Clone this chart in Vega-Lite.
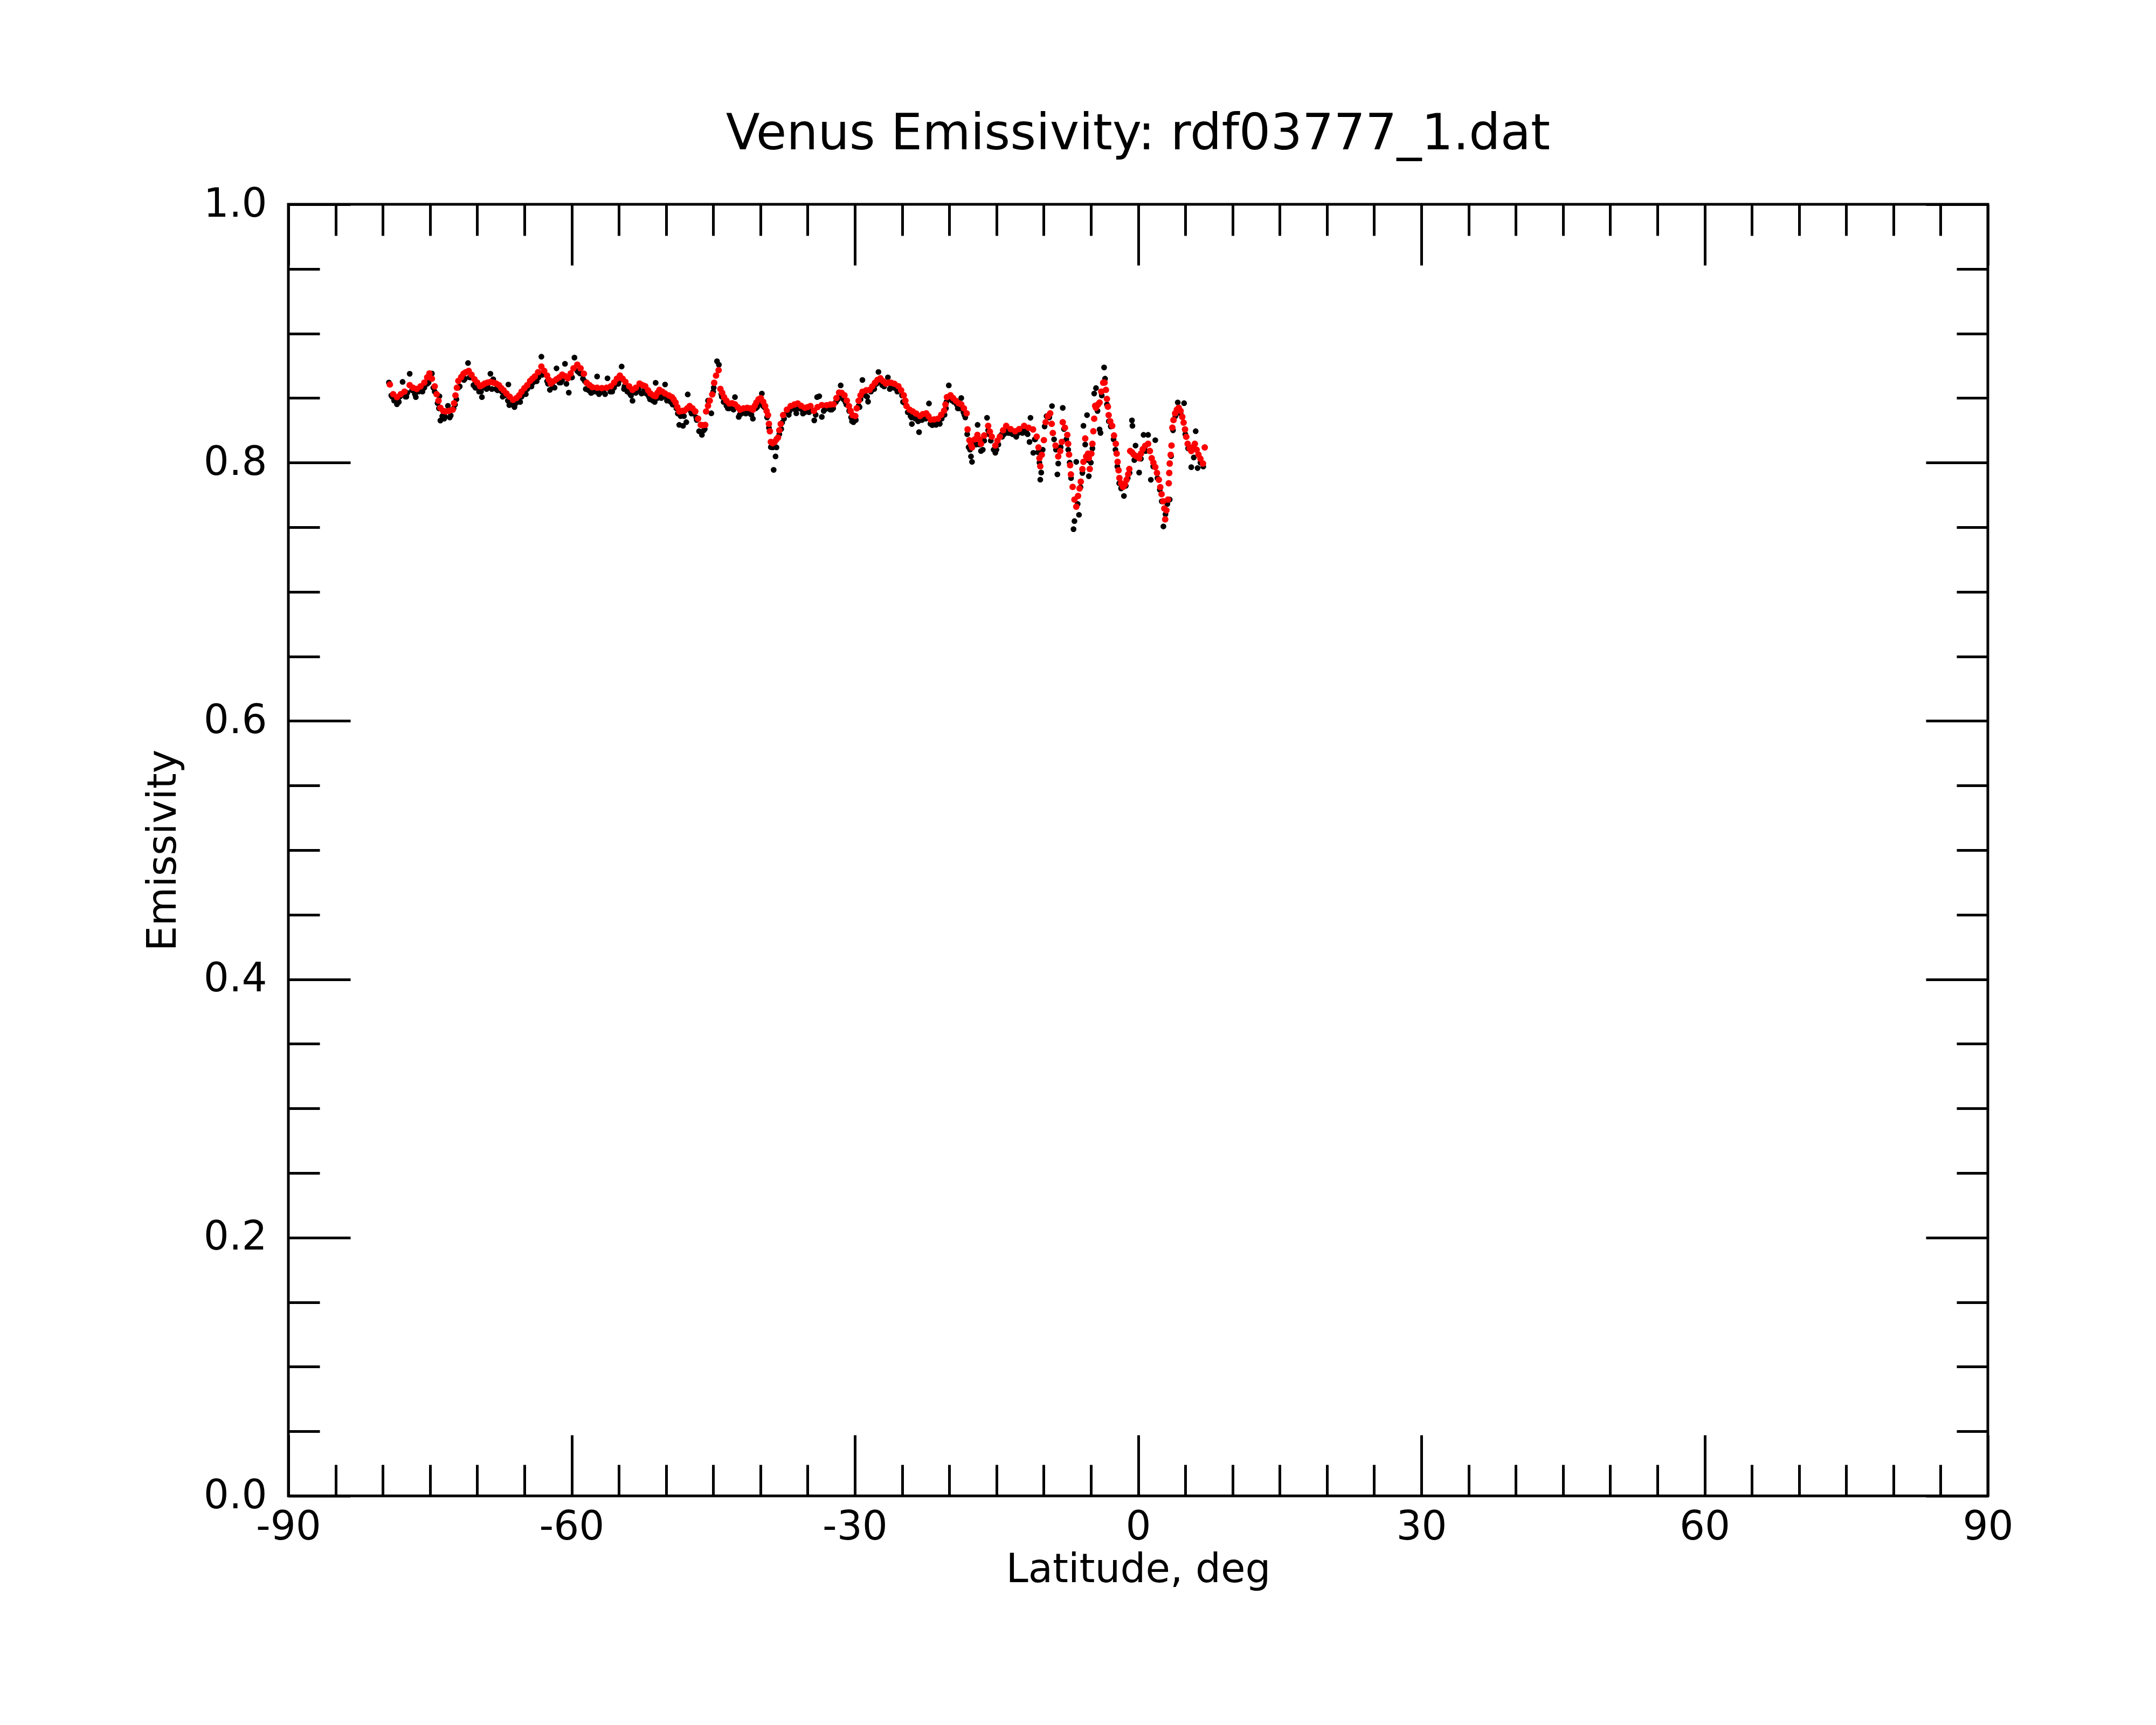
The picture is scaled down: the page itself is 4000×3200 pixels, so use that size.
{
"$schema": "https://vega.github.io/schema/vega-lite/v6.json",
"autosize": "none",
"width": 3153,
"height": 2396,
"padding": {"left": 535, "top": 379, "right": 312, "bottom": 425},
"background": "white",
"config": {
  "font": "DejaVu Sans",
  "view": {"stroke": "black", "strokeWidth": 5},
  "axis": {"grid": false, "domain": false, "tickColor": "black", "tickWidth": 5, "labelColor": "black", "titleColor": "black", "labelFont": "DejaVu Sans", "titleFont": "DejaVu Sans", "titleFontWeight": "normal", "labelFlush": false, "labelOverlap": false, "labelBound": false}
},
"title": {"text": "Venus Emissivity: rdf03777_1.dat", "font": "DejaVu Sans", "fontSize": 92, "fontWeight": "normal", "color": "black", "anchor": "middle", "frame": "group", "baseline": "alphabetic", "offset": -27},
"datasets": {
"raw": [
{"lat":-79.35,"emis":0.862},{"lat":-79.1,"emis":0.852},{"lat":-78.8,"emis":0.848},{"lat":-78.5,"emis":0.8452},{"lat":-78.2,"emis":0.851},{"lat":-77.9,"emis":0.8625},{"lat":-77.6,"emis":0.851},{"lat":-77.4,"emis":0.854},{"lat":-77.15,"emis":0.8688},{"lat":-76.9,"emis":0.856},{"lat":-76.5,"emis":0.8507},{"lat":-76.2,"emis":0.855},{"lat":-75.9,"emis":0.856},{"lat":-75.6,"emis":0.858},{"lat":-75.3,"emis":0.861},{"lat":-75.0,"emis":0.866},{"lat":-74.8,"emis":0.869},{"lat":-74.5,"emis":0.855},{"lat":-74.2,"emis":0.846},{"lat":-74.0,"emis":0.8514},{"lat":-73.9,"emis":0.8326},{"lat":-73.7,"emis":0.836},{"lat":-73.4,"emis":0.8355},{"lat":-73.1,"emis":0.844},{"lat":-72.8,"emis":0.8365},{"lat":-72.5,"emis":0.842},{"lat":-72.2,"emis":0.849},{"lat":-72.0,"emis":0.858},{"lat":-71.7,"emis":0.8665},{"lat":-71.4,"emis":0.864},{"lat":-70.97,"emis":0.8771},{"lat":-70.7,"emis":0.866},{"lat":-70.4,"emis":0.86},{"lat":-70.1,"emis":0.858},{"lat":-69.8,"emis":0.855},{"lat":-69.5,"emis":0.8507},{"lat":-69.2,"emis":0.858},{"lat":-68.9,"emis":0.859},{"lat":-68.6,"emis":0.8688},{"lat":-68.3,"emis":0.8645},{"lat":-68.0,"emis":0.857},{"lat":-67.7,"emis":0.857},{"lat":-67.4,"emis":0.855},{"lat":-67.1,"emis":0.852},{"lat":-66.7,"emis":0.8605},{"lat":-66.6,"emis":0.8445},{"lat":-66.3,"emis":0.845},{"lat":-65.9,"emis":0.846},{"lat":-65.6,"emis":0.848},{"lat":-65.3,"emis":0.851},{"lat":-65.0,"emis":0.854},{"lat":-64.7,"emis":0.857},{"lat":-64.4,"emis":0.859},{"lat":-64.1,"emis":0.862},{"lat":-63.8,"emis":0.863},{"lat":-63.5,"emis":0.866},{"lat":-63.2,"emis":0.882},{"lat":-63.0,"emis":0.87},{"lat":-62.6,"emis":0.863},{"lat":-62.3,"emis":0.8563},{"lat":-62.0,"emis":0.859},{"lat":-61.6,"emis":0.873},{"lat":-61.3,"emis":0.862},{"lat":-61.0,"emis":0.864},{"lat":-60.7,"emis":0.8765},{"lat":-60.3,"emis":0.8542},{"lat":-60.0,"emis":0.866},{"lat":-59.7,"emis":0.8813},{"lat":-59.4,"emis":0.871},{"lat":-59.1,"emis":0.869},{"lat":-58.8,"emis":0.865},{"lat":-58.5,"emis":0.857},{"lat":-58.2,"emis":0.856},{"lat":-57.9,"emis":0.854},{"lat":-57.5,"emis":0.855},{"lat":-57.3,"emis":0.8667},{"lat":-57.0,"emis":0.854},{"lat":-56.6,"emis":0.855},
{"lat":-79.0,"emis":0.851},{"lat":-78.3,"emis":0.847},{"lat":-77.5,"emis":0.851},{"lat":-76.6,"emis":0.853},{"lat":-75.8,"emis":0.855},{"lat":-75.15,"emis":0.862},{"lat":-74.65,"emis":0.858},{"lat":-74.05,"emis":0.842},{"lat":-73.5,"emis":0.834},{"lat":-72.9,"emis":0.835},{"lat":-72.35,"emis":0.845},{"lat":-71.85,"emis":0.859},{"lat":-71.3,"emis":0.865},{"lat":-70.8,"emis":0.866},{"lat":-70.2,"emis":0.858},{"lat":-69.6,"emis":0.855},{"lat":-69.0,"emis":0.857},{"lat":-68.45,"emis":0.857},{"lat":-67.85,"emis":0.856},{"lat":-67.3,"emis":0.851},{"lat":-66.75,"emis":0.848},{"lat":-66.05,"emis":0.843},{"lat":-65.45,"emis":0.847},{"lat":-64.85,"emis":0.853},{"lat":-64.25,"emis":0.859},{"lat":-63.7,"emis":0.863},{"lat":-63.1,"emis":0.868},{"lat":-62.5,"emis":0.861},{"lat":-61.8,"emis":0.858},{"lat":-61.15,"emis":0.862},{"lat":-60.55,"emis":0.861},{"lat":-59.95,"emis":0.866},{"lat":-59.25,"emis":0.87},{"lat":-58.6,"emis":0.863},{"lat":-57.95,"emis":0.854},{"lat":-57.1,"emis":0.853},{"lat":-56.45,"emis":0.853},{"lat":-55.7,"emis":0.855},{"lat":-55.05,"emis":0.861},{"lat":-54.45,"emis":0.857},{"lat":-53.7,"emis":0.852},{"lat":-53.0,"emis":0.856},{"lat":-52.35,"emis":0.854},{"lat":-51.8,"emis":0.851},{"lat":-51.2,"emis":0.847},{"lat":-50.5,"emis":0.85},{"lat":-49.9,"emis":0.848},{"lat":-49.3,"emis":0.845},{"lat":-48.75,"emis":0.838},{"lat":-48.1,"emis":0.836},{"lat":-47.3,"emis":0.838},{"lat":-46.75,"emis":0.833},{"lat":-46.0,"emis":0.825},{"lat":-45.0,"emis":0.855},{"lat":-44.15,"emis":0.853},{"lat":-43.45,"emis":0.842},{"lat":-42.85,"emis":0.841},{"lat":-42.2,"emis":0.837},{"lat":-41.55,"emis":0.838},{"lat":-40.95,"emis":0.837},{"lat":-40.35,"emis":0.843},{"lat":-39.75,"emis":0.844},{"lat":-37.7,"emis":0.831},{"lat":-37.0,"emis":0.837},{"lat":-36.3,"emis":0.841},{"lat":-35.5,"emis":0.838},{"lat":-34.85,"emis":0.839},{"lat":-34.15,"emis":0.837},{"lat":-33.3,"emis":0.84},{"lat":-32.45,"emis":0.841},{"lat":-31.8,"emis":0.849},{"lat":-31.0,"emis":0.847},{"lat":-30.3,"emis":0.832},{"lat":-29.5,"emis":0.843},{"lat":-28.7,"emis":0.851},{"lat":-27.95,"emis":0.857},{"lat":-27.1,"emis":0.86},{"lat":-26.3,"emis":0.857},{"lat":-25.5,"emis":0.855},{"lat":-24.9,"emis":0.847},{"lat":-24.0,"emis":0.835},{"lat":-23.3,"emis":0.832},{"lat":-22.5,"emis":0.834},{"lat":-21.8,"emis":0.829},{"lat":-21.0,"emis":0.83},{"lat":-20.35,"emis":0.842},{"lat":-19.7,"emis":0.848},{"lat":-19.1,"emis":0.842},{"lat":-18.4,"emis":0.837},{"lat":-17.8,"emis":0.81},{"lat":-17.15,"emis":0.814},{"lat":-16.45,"emis":0.81},{"lat":-15.8,"emis":0.822},{"lat":-15.0,"emis":0.81},{"lat":-14.4,"emis":0.82},{"lat":-13.75,"emis":0.823},{"lat":-12.9,"emis":0.82},{"lat":-12.25,"emis":0.823},{"lat":-11.7,"emis":0.822},{"lat":-10.95,"emis":0.818},
{"lat":-56.2,"emis":0.8653},{"lat":-55.9,"emis":0.855},{"lat":-55.5,"emis":0.858},{"lat":-55.2,"emis":0.861},{"lat":-54.9,"emis":0.864},{"lat":-54.7,"emis":0.8744},{"lat":-54.4,"emis":0.859},{"lat":-54.1,"emis":0.855},{"lat":-53.8,"emis":0.853},{"lat":-53.55,"emis":0.8479},{"lat":-53.2,"emis":0.854},{"lat":-52.9,"emis":0.857},{"lat":-52.6,"emis":0.8535},{"lat":-52.3,"emis":0.856},{"lat":-52.0,"emis":0.853},{"lat":-51.7,"emis":0.849},{"lat":-51.4,"emis":0.848},{"lat":-51.1,"emis":0.8618},{"lat":-50.9,"emis":0.85},{"lat":-50.6,"emis":0.852},{"lat":-50.3,"emis":0.851},{"lat":-50.1,"emis":0.8605},{"lat":-49.8,"emis":0.849},{"lat":-49.5,"emis":0.847},{"lat":-49.2,"emis":0.845},{"lat":-48.9,"emis":0.842},{"lat":-48.6,"emis":0.8292},{"lat":-48.45,"emis":0.836},{"lat":-48.2,"emis":0.8285},{"lat":-47.85,"emis":0.8313},{"lat":-47.7,"emis":0.8528},{"lat":-47.4,"emis":0.84},{"lat":-47.1,"emis":0.838},{"lat":-46.8,"emis":0.835},{"lat":-46.5,"emis":0.8243},{"lat":-46.2,"emis":0.8215},{"lat":-45.9,"emis":0.826},{"lat":-45.55,"emis":0.848},{"lat":-45.2,"emis":0.8382},{"lat":-44.95,"emis":0.858},{"lat":-44.6,"emis":0.8785},{"lat":-44.4,"emis":0.8758},{"lat":-44.1,"emis":0.851},{"lat":-43.9,"emis":0.847},{"lat":-43.6,"emis":0.844},{"lat":-43.3,"emis":0.842},{"lat":-43.0,"emis":0.843},{"lat":-42.7,"emis":0.8507},{"lat":-42.3,"emis":0.8354},{"lat":-42.0,"emis":0.838},{"lat":-41.7,"emis":0.839},{"lat":-41.4,"emis":0.8395},{"lat":-41.1,"emis":0.838},{"lat":-40.8,"emis":0.834},{"lat":-40.5,"emis":0.842},{"lat":-40.2,"emis":0.846},{"lat":-39.85,"emis":0.8535},{"lat":-39.6,"emis":0.843},{"lat":-39.3,"emis":0.835},{"lat":-39.1,"emis":0.827},{"lat":-38.9,"emis":0.812},{"lat":-38.7,"emis":0.8118},{"lat":-38.6,"emis":0.7944},{"lat":-38.4,"emis":0.8048},{"lat":-38.3,"emis":0.8118},{"lat":-38.0,"emis":0.822},{"lat":-37.8,"emis":0.826},{"lat":-37.5,"emis":0.834},{"lat":-37.2,"emis":0.839},{"lat":-36.9,"emis":0.84},{"lat":-36.6,"emis":0.842},{"lat":-36.2,"emis":0.8382},{"lat":-35.9,"emis":0.842},{"lat":-35.6,"emis":0.841},{"lat":-35.3,"emis":0.839},{"lat":-35.0,"emis":0.84},{"lat":-34.6,"emis":0.841},{"lat":-34.3,"emis":0.8327},{"lat":-34.0,"emis":0.8507},{"lat":-33.77,"emis":0.8514},
{"lat":-33.5,"emis":0.8354},{"lat":-33.2,"emis":0.841},{"lat":-32.9,"emis":0.842},{"lat":-32.6,"emis":0.841},{"lat":-32.3,"emis":0.842},{"lat":-32.0,"emis":0.847},{"lat":-31.7,"emis":0.851},{"lat":-31.5,"emis":0.8598},{"lat":-31.2,"emis":0.849},{"lat":-30.9,"emis":0.845},{"lat":-30.6,"emis":0.84},{"lat":-30.4,"emis":0.835},{"lat":-30.15,"emis":0.8313},{"lat":-29.9,"emis":0.833},{"lat":-29.6,"emis":0.844},{"lat":-29.4,"emis":0.849},{"lat":-29.2,"emis":0.864},{"lat":-28.9,"emis":0.852},{"lat":-28.6,"emis":0.8472},{"lat":-28.3,"emis":0.855},{"lat":-28.0,"emis":0.858},{"lat":-27.7,"emis":0.861},{"lat":-27.5,"emis":0.8702},{"lat":-27.2,"emis":0.862},{"lat":-26.9,"emis":0.859},{"lat":-26.5,"emis":0.866},{"lat":-26.2,"emis":0.858},{"lat":-25.9,"emis":0.858},{"lat":-25.6,"emis":0.857},{"lat":-25.3,"emis":0.856},{"lat":-25.0,"emis":0.852},{"lat":-24.7,"emis":0.846},{"lat":-24.4,"emis":0.839},{"lat":-24.1,"emis":0.836},{"lat":-23.96,"emis":0.8299},{"lat":-23.6,"emis":0.834},{"lat":-23.2,"emis":0.8236},{"lat":-22.9,"emis":0.833},{"lat":-22.6,"emis":0.835},{"lat":-22.15,"emis":0.8458},{"lat":-22.0,"emis":0.83},{"lat":-21.7,"emis":0.83},{"lat":-21.4,"emis":0.8292},{"lat":-21.1,"emis":0.831},{"lat":-20.8,"emis":0.834},{"lat":-20.5,"emis":0.837},{"lat":-20.3,"emis":0.847},{"lat":-20.05,"emis":0.8598},{"lat":-19.8,"emis":0.849},{"lat":-19.5,"emis":0.847},{"lat":-19.2,"emis":0.845},{"lat":-18.9,"emis":0.842},{"lat":-18.73,"emis":0.85},{"lat":-18.5,"emis":0.839},{"lat":-18.3,"emis":0.835},{"lat":-18.1,"emis":0.822},{"lat":-17.95,"emis":0.812},{"lat":-17.7,"emis":0.8048},{"lat":-17.59,"emis":0.8006},{"lat":-17.35,"emis":0.815},{"lat":-17.0,"emis":0.8292},{"lat":-16.8,"emis":0.814},{"lat":-16.64,"emis":0.809},{"lat":-16.3,"emis":0.817},{"lat":-16.0,"emis":0.8347},{"lat":-15.88,"emis":0.825},{"lat":-15.6,"emis":0.817},{"lat":-15.3,"emis":0.81},{"lat":-15.12,"emis":0.8076},{"lat":-14.8,"emis":0.814},{"lat":-14.5,"emis":0.8215},{"lat":-14.2,"emis":0.822},{"lat":-13.9,"emis":0.825},{"lat":-13.6,"emis":0.823},{"lat":-13.3,"emis":0.822},{"lat":-13.0,"emis":0.821},{"lat":-12.7,"emis":0.823},{"lat":-12.4,"emis":0.826},{"lat":-12.1,"emis":0.825},{"lat":-11.8,"emis":0.823},{"lat":-11.5,"emis":0.816},{"lat":-11.4,"emis":0.8347},{"lat":-11.1,"emis":0.8076},
{"lat":-10.9,"emis":0.818},{"lat":-10.6,"emis":0.808},{"lat":-10.45,"emis":0.8},{"lat":-10.36,"emis":0.7868},{"lat":-10.26,"emis":0.7923},{"lat":-10.1,"emis":0.81},{"lat":-9.9,"emis":0.828},{"lat":-9.7,"emis":0.836},{"lat":-9.4,"emis":0.835},{"lat":-9.12,"emis":0.8438},{"lat":-8.9,"emis":0.818},{"lat":-8.7,"emis":0.81},{"lat":-8.55,"emis":0.7909},{"lat":-8.46,"emis":0.7993},{"lat":-8.2,"emis":0.812},{"lat":-7.98,"emis":0.8424},{"lat":-7.85,"emis":0.826},{"lat":-7.6,"emis":0.818},{"lat":-7.4,"emis":0.81},{"lat":-7.25,"emis":0.8},{"lat":-7.1,"emis":0.788},{"lat":-6.84,"emis":0.7485},{"lat":-6.74,"emis":0.7547},{"lat":-6.55,"emis":0.8006},{"lat":-6.4,"emis":0.768},{"lat":-6.26,"emis":0.7596},{"lat":-6.1,"emis":0.781},{"lat":-5.9,"emis":0.792},{"lat":-5.79,"emis":0.8285},{"lat":-5.6,"emis":0.814},{"lat":-5.41,"emis":0.8368},{"lat":-5.3,"emis":0.802},{"lat":-5.22,"emis":0.7895},{"lat":-5.0,"emis":0.8},{"lat":-4.84,"emis":0.811},{"lat":-4.65,"emis":0.8535},{"lat":-4.46,"emis":0.8577},{"lat":-4.3,"emis":0.84},{"lat":-4.08,"emis":0.8257},{"lat":-3.98,"emis":0.823},{"lat":-3.85,"emis":0.852},{"lat":-3.6,"emis":0.8737},{"lat":-3.5,"emis":0.865},{"lat":-3.3,"emis":0.845},{"lat":-3.1,"emis":0.832},{"lat":-2.9,"emis":0.828},{"lat":-2.6,"emis":0.818},{"lat":-2.4,"emis":0.81},{"lat":-2.2,"emis":0.797},{"lat":-2.0,"emis":0.784},{"lat":-1.8,"emis":0.78},{"lat":-1.5,"emis":0.7742},{"lat":-1.3,"emis":0.782},{"lat":-1.1,"emis":0.788},{"lat":-0.9,"emis":0.792},{"lat":-0.65,"emis":0.8327},{"lat":-0.6,"emis":0.8285},{"lat":-0.4,"emis":0.802},{"lat":-0.27,"emis":0.8132},{"lat":0.11,"emis":0.7923},{"lat":0.3,"emis":0.803},{"lat":0.58,"emis":0.8215},{"lat":0.8,"emis":0.809},{"lat":1.06,"emis":0.8215},{"lat":1.35,"emis":0.7867},{"lat":1.6,"emis":0.797},{"lat":1.82,"emis":0.8174},{"lat":2.05,"emis":0.788},{"lat":2.3,"emis":0.779},{"lat":2.5,"emis":0.77},{"lat":2.68,"emis":0.7506},{"lat":2.9,"emis":0.76},{"lat":3.1,"emis":0.768},{"lat":3.35,"emis":0.7714},{"lat":3.5,"emis":0.805},{"lat":3.7,"emis":0.825},{"lat":3.95,"emis":0.836},{"lat":4.2,"emis":0.8466},{"lat":4.5,"emis":0.838},{"lat":4.87,"emis":0.846},{"lat":5.0,"emis":0.822},{"lat":5.3,"emis":0.811},{"lat":5.63,"emis":0.7965},{"lat":5.9,"emis":0.804},{"lat":6.1,"emis":0.8243},{"lat":6.3,"emis":0.7958},{"lat":6.6,"emis":0.8},{"lat":6.9,"emis":0.797}
],
"smoothed": [
{"lat":-79.25,"emis":0.8605},{"lat":-78.9,"emis":0.853},{"lat":-78.5,"emis":0.8507},{"lat":-78.1,"emis":0.853},{"lat":-77.7,"emis":0.855},{"lat":-77.15,"emis":0.86},{"lat":-76.8,"emis":0.858},{"lat":-76.4,"emis":0.857},{"lat":-76.0,"emis":0.859},{"lat":-75.6,"emis":0.862},{"lat":-75.3,"emis":0.866},{"lat":-75.06,"emis":0.869},{"lat":-74.8,"emis":0.865},{"lat":-74.5,"emis":0.859},{"lat":-74.3,"emis":0.853},{"lat":-74.1,"emis":0.848},{"lat":-73.9,"emis":0.8424},{"lat":-73.6,"emis":0.84},{"lat":-73.35,"emis":0.8396},{"lat":-73.0,"emis":0.84},{"lat":-72.6,"emis":0.841},{"lat":-72.45,"emis":0.846},{"lat":-72.3,"emis":0.852},{"lat":-72.15,"emis":0.858},{"lat":-72.0,"emis":0.8632},{"lat":-71.7,"emis":0.866},{"lat":-71.45,"emis":0.8688},{"lat":-71.2,"emis":0.87},{"lat":-70.9,"emis":0.871},{"lat":-70.6,"emis":0.868},{"lat":-70.3,"emis":0.8646},{"lat":-70.0,"emis":0.862},{"lat":-69.7,"emis":0.8591},{"lat":-69.45,"emis":0.86},{"lat":-69.2,"emis":0.8612},{"lat":-68.9,"emis":0.862},{"lat":-68.6,"emis":0.8625},{"lat":-68.3,"emis":0.862},{"lat":-68.0,"emis":0.8612},{"lat":-67.7,"emis":0.86},{"lat":-67.45,"emis":0.8577},{"lat":-67.2,"emis":0.856},{"lat":-66.9,"emis":0.8535},{"lat":-66.55,"emis":0.851},{"lat":-66.2,"emis":0.8486},{"lat":-65.85,"emis":0.85},{"lat":-65.55,"emis":0.8521},{"lat":-65.3,"emis":0.855},{"lat":-65.0,"emis":0.8577},{"lat":-64.7,"emis":0.86},{"lat":-64.4,"emis":0.8632},{"lat":-64.15,"emis":0.865},{"lat":-63.9,"emis":0.8667},{"lat":-63.55,"emis":0.87},{"lat":-63.2,"emis":0.8744},{"lat":-62.9,"emis":0.871},{"lat":-62.6,"emis":0.8674},{"lat":-62.4,"emis":0.864},{"lat":-62.2,"emis":0.8612},{"lat":-61.9,"emis":0.863},{"lat":-61.6,"emis":0.8646},{"lat":-61.3,"emis":0.866},{"lat":-61.0,"emis":0.8681},{"lat":-60.7,"emis":0.867},{"lat":-60.4,"emis":0.8653},{"lat":-60.1,"emis":0.869},{"lat":-59.8,"emis":0.873},{"lat":-59.4,"emis":0.8758},{"lat":-59.05,"emis":0.873},{"lat":-58.7,"emis":0.8688},{"lat":-58.4,"emis":0.8618},{"lat":-58.1,"emis":0.86},{"lat":-57.8,"emis":0.8584},{"lat":-57.3,"emis":0.858},{"lat":-56.8,"emis":0.8577},
{"lat":-56.3,"emis":0.858},{"lat":-55.84,"emis":0.8591},{"lat":-55.5,"emis":0.862},{"lat":-55.2,"emis":0.865},{"lat":-54.89,"emis":0.8674},{"lat":-54.6,"emis":0.865},{"lat":-54.3,"emis":0.8625},{"lat":-53.9,"emis":0.859},{"lat":-53.55,"emis":0.8563},{"lat":-53.2,"emis":0.858},{"lat":-52.8,"emis":0.8612},{"lat":-52.5,"emis":0.86},{"lat":-52.2,"emis":0.8591},{"lat":-51.9,"emis":0.856},{"lat":-51.65,"emis":0.8535},{"lat":-51.35,"emis":0.852},{"lat":-51.1,"emis":0.8514},{"lat":-50.9,"emis":0.854},{"lat":-50.7,"emis":0.8563},{"lat":-50.4,"emis":0.855},{"lat":-50.1,"emis":0.8535},{"lat":-49.7,"emis":0.852},{"lat":-49.37,"emis":0.8507},{"lat":-49.2,"emis":0.849},{"lat":-48.99,"emis":0.8465},{"lat":-48.8,"emis":0.843},{"lat":-48.6,"emis":0.8396},{"lat":-48.3,"emis":0.84},{"lat":-48.04,"emis":0.8403},{"lat":-47.75,"emis":0.842},{"lat":-47.5,"emis":0.8438},{"lat":-47.2,"emis":0.842},{"lat":-46.9,"emis":0.8396},{"lat":-46.6,"emis":0.834},{"lat":-46.32,"emis":0.8292},{"lat":-46.1,"emis":0.829},{"lat":-45.85,"emis":0.8292},{"lat":-45.75,"emis":0.8396},{"lat":-45.55,"emis":0.844},{"lat":-45.37,"emis":0.848},{"lat":-45.1,"emis":0.8528},{"lat":-44.9,"emis":0.8618},{"lat":-44.7,"emis":0.8674},{"lat":-44.43,"emis":0.8716},{"lat":-44.24,"emis":0.857},{"lat":-44.05,"emis":0.854},{"lat":-43.85,"emis":0.8507},{"lat":-43.6,"emis":0.848},{"lat":-43.3,"emis":0.8458},{"lat":-43.0,"emis":0.846},{"lat":-42.7,"emis":0.8452},{"lat":-42.4,"emis":0.843},{"lat":-42.16,"emis":0.841},{"lat":-41.8,"emis":0.842},{"lat":-41.4,"emis":0.8424},{"lat":-41.1,"emis":0.842},{"lat":-40.8,"emis":0.841},{"lat":-40.6,"emis":0.844},{"lat":-40.43,"emis":0.8465},{"lat":-40.2,"emis":0.849},{"lat":-39.96,"emis":0.85},{"lat":-39.7,"emis":0.847},{"lat":-39.5,"emis":0.8438},{"lat":-39.35,"emis":0.84},{"lat":-39.2,"emis":0.8368},{"lat":-39.1,"emis":0.83},{"lat":-39.0,"emis":0.8243},{"lat":-38.9,"emis":0.816},{"lat":-38.7,"emis":0.815},{"lat":-38.5,"emis":0.816},{"lat":-38.3,"emis":0.818},{"lat":-38.14,"emis":0.8194},{"lat":-38.0,"emis":0.825},{"lat":-37.85,"emis":0.8299},{"lat":-37.6,"emis":0.8368},{"lat":-37.2,"emis":0.841},{"lat":-36.8,"emis":0.8438},{"lat":-36.4,"emis":0.845},{"lat":-36.05,"emis":0.8458},{"lat":-35.7,"emis":0.844},{"lat":-35.3,"emis":0.8424},{"lat":-35.0,"emis":0.843},{"lat":-34.7,"emis":0.8438},{"lat":-34.34,"emis":0.84},{"lat":-33.96,"emis":0.843},
{"lat":-33.5,"emis":0.8445},{"lat":-33.0,"emis":0.8444},{"lat":-32.6,"emis":0.845},{"lat":-32.25,"emis":0.8452},{"lat":-31.95,"emis":0.85},{"lat":-31.67,"emis":0.8542},{"lat":-31.4,"emis":0.854},{"lat":-31.1,"emis":0.8521},{"lat":-30.85,"emis":0.848},{"lat":-30.63,"emis":0.8438},{"lat":-30.45,"emis":0.84},{"lat":-30.25,"emis":0.8368},{"lat":-29.95,"emis":0.8361},{"lat":-29.8,"emis":0.842},{"lat":-29.6,"emis":0.8479},{"lat":-29.4,"emis":0.852},{"lat":-29.2,"emis":0.8549},{"lat":-28.8,"emis":0.856},{"lat":-28.44,"emis":0.8563},{"lat":-28.15,"emis":0.859},{"lat":-27.87,"emis":0.8618},{"lat":-27.6,"emis":0.864},{"lat":-27.3,"emis":0.8653},{"lat":-27.0,"emis":0.863},{"lat":-26.72,"emis":0.8612},{"lat":-26.45,"emis":0.862},{"lat":-26.15,"emis":0.8618},{"lat":-25.8,"emis":0.861},{"lat":-25.39,"emis":0.8591},{"lat":-25.1,"emis":0.856},{"lat":-24.82,"emis":0.8521},{"lat":-24.65,"emis":0.848},{"lat":-24.53,"emis":0.8438},{"lat":-24.2,"emis":0.841},{"lat":-23.87,"emis":0.8396},{"lat":-23.5,"emis":0.838},{"lat":-23.1,"emis":0.8361},{"lat":-22.8,"emis":0.8375},{"lat":-22.44,"emis":0.8382},{"lat":-22.2,"emis":0.836},{"lat":-21.96,"emis":0.8333},{"lat":-21.6,"emis":0.8335},{"lat":-21.2,"emis":0.834},{"lat":-20.85,"emis":0.837},{"lat":-20.54,"emis":0.8403},{"lat":-20.4,"emis":0.845},{"lat":-20.25,"emis":0.8507},{"lat":-19.87,"emis":0.8521},{"lat":-19.6,"emis":0.85},{"lat":-19.3,"emis":0.8479},{"lat":-19.0,"emis":0.846},{"lat":-18.73,"emis":0.8452},{"lat":-18.45,"emis":0.842},{"lat":-18.16,"emis":0.8382},{"lat":-18.06,"emis":0.8257},{"lat":-17.87,"emis":0.8173},{"lat":-17.7,"emis":0.814},{"lat":-17.59,"emis":0.8118},{"lat":-17.3,"emis":0.818},{"lat":-17.02,"emis":0.8215},{"lat":-16.8,"emis":0.818},{"lat":-16.64,"emis":0.8146},{"lat":-16.3,"emis":0.821},{"lat":-15.88,"emis":0.8285},{"lat":-15.7,"emis":0.824},{"lat":-15.5,"emis":0.8201},{"lat":-15.12,"emis":0.8132},{"lat":-14.9,"emis":0.817},{"lat":-14.64,"emis":0.8201},{"lat":-14.3,"emis":0.825},{"lat":-13.97,"emis":0.8285},{"lat":-13.5,"emis":0.826},{"lat":-13.02,"emis":0.8243},{"lat":-12.6,"emis":0.826},{"lat":-12.07,"emis":0.8285},{"lat":-11.6,"emis":0.827},{"lat":-11.13,"emis":0.8257},
{"lat":-10.74,"emis":0.8201},{"lat":-10.55,"emis":0.8118},{"lat":-10.45,"emis":0.8034},{"lat":-10.36,"emis":0.7972},{"lat":-10.2,"emis":0.806},{"lat":-9.98,"emis":0.8174},{"lat":-9.79,"emis":0.8313},{"lat":-9.55,"emis":0.836},{"lat":-9.31,"emis":0.8382},{"lat":-9.15,"emis":0.83},{"lat":-9.03,"emis":0.8229},{"lat":-8.74,"emis":0.8132},{"lat":-8.46,"emis":0.8048},{"lat":-8.25,"emis":0.809},{"lat":-8.08,"emis":0.816},{"lat":-7.98,"emis":0.8313},{"lat":-7.75,"emis":0.827},{"lat":-7.5,"emis":0.8215},{"lat":-7.41,"emis":0.8146},{"lat":-7.31,"emis":0.8062},{"lat":-7.2,"emis":0.798},{"lat":-7.12,"emis":0.7909},{"lat":-6.93,"emis":0.7812},{"lat":-6.74,"emis":0.7714},{"lat":-6.55,"emis":0.7659},{"lat":-6.36,"emis":0.7742},{"lat":-6.2,"emis":0.78},{"lat":-6.07,"emis":0.7853},{"lat":-5.9,"emis":0.795},{"lat":-5.79,"emis":0.8006},{"lat":-5.6,"emis":0.8187},{"lat":-5.5,"emis":0.8048},{"lat":-5.3,"emis":0.807},{"lat":-5.22,"emis":0.8034},{"lat":-5.12,"emis":0.7951},{"lat":-4.95,"emis":0.807},{"lat":-4.84,"emis":0.8146},{"lat":-4.74,"emis":0.8243},{"lat":-4.65,"emis":0.834},{"lat":-4.55,"emis":0.844},{"lat":-4.46,"emis":0.8424},{"lat":-4.25,"emis":0.845},{"lat":-4.08,"emis":0.8465},{"lat":-3.9,"emis":0.855},{"lat":-3.7,"emis":0.8619},{"lat":-3.55,"emis":0.862},{"lat":-3.41,"emis":0.8563},{"lat":-3.3,"emis":0.8493},{"lat":-3.2,"emis":0.8433},{"lat":-3.12,"emis":0.8368},{"lat":-2.95,"emis":0.832},{"lat":-2.74,"emis":0.8285},{"lat":-2.55,"emis":0.821},{"lat":-2.36,"emis":0.8146},{"lat":-2.27,"emis":0.807},{"lat":-2.17,"emis":0.8006},{"lat":-2.07,"emis":0.794},{"lat":-1.98,"emis":0.7881},{"lat":-1.8,"emis":0.784},{"lat":-1.6,"emis":0.7812},{"lat":-1.4,"emis":0.783},{"lat":-1.22,"emis":0.7867},{"lat":-1.05,"emis":0.791},{"lat":-0.93,"emis":0.7951},{"lat":-0.84,"emis":0.809},{"lat":-0.65,"emis":0.808},{"lat":-0.46,"emis":0.8062},{"lat":-0.2,"emis":0.805},{"lat":0.11,"emis":0.8034},{"lat":0.3,"emis":0.807},{"lat":0.49,"emis":0.8104},{"lat":0.75,"emis":0.813},{"lat":1.06,"emis":0.8146},{"lat":1.25,"emis":0.809},{"lat":1.44,"emis":0.8034},{"lat":1.62,"emis":0.8},{"lat":1.82,"emis":0.7965},{"lat":2.0,"emis":0.792},{"lat":2.2,"emis":0.7867},{"lat":2.35,"emis":0.781},{"lat":2.49,"emis":0.7756},{"lat":2.65,"emis":0.77},{"lat":2.78,"emis":0.7645},{"lat":2.87,"emis":0.7561},{"lat":3.0,"emis":0.763},{"lat":3.16,"emis":0.7714},{"lat":3.25,"emis":0.784},{"lat":3.3,"emis":0.792},{"lat":3.35,"emis":0.7993},{"lat":3.45,"emis":0.806},{"lat":3.54,"emis":0.8132},{"lat":3.63,"emis":0.8271},{"lat":3.75,"emis":0.833},{"lat":3.92,"emis":0.8382},{"lat":4.1,"emis":0.841},{"lat":4.3,"emis":0.8424},{"lat":4.5,"emis":0.84},{"lat":4.68,"emis":0.8354},{"lat":4.82,"emis":0.831},{"lat":4.97,"emis":0.8257},{"lat":5.1,"emis":0.82},{"lat":5.25,"emis":0.8146},{"lat":5.45,"emis":0.811},{"lat":5.63,"emis":0.809},{"lat":5.8,"emis":0.812},{"lat":6.01,"emis":0.8146},{"lat":6.2,"emis":0.81},{"lat":6.39,"emis":0.8062},{"lat":6.6,"emis":0.803},{"lat":6.87,"emis":0.7993},{"lat":7.06,"emis":0.8118}
]
},
"resolve": {"axis": {"x": "independent", "y": "independent"}},
"layer": [
{
 "data": {"name": "raw"},
 "mark": {"type": "circle", "size": 115, "color": "black", "opacity": 1},
 "encoding": {
  "x": {"field": "lat", "type": "quantitative", "scale": {"domain": [-90, 90], "nice": false, "zero": false},
        "axis": {"orient": "bottom", "values": [-90, -60, -30, 0, 30, 60, 90], "tickSize": -113, "labels": false, "title": null}},
  "y": {"field": "emis", "type": "quantitative", "scale": {"domain": [0, 1], "nice": false, "zero": false},
        "axis": {"orient": "left", "values": [0, 0.2, 0.4, 0.6, 0.8, 1], "tickSize": -115, "labels": false, "title": null}}
 }
},
{
 "data": {"name": "smoothed"},
 "mark": {"type": "circle", "size": 145, "color": "#ff0000", "opacity": 1},
 "encoding": {
  "x": {"field": "lat", "type": "quantitative",
        "axis": {"orient": "bottom", "values": [-85,-80,-75,-70,-65,-55,-50,-45,-40,-35,-25,-20,-15,-10,-5,5,10,15,20,25,35,40,45,50,55,65,70,75,80,85], "tickSize": -58, "labels": false, "title": null}},
  "y": {"field": "emis", "type": "quantitative",
        "axis": {"orient": "left", "values": [0.05,0.1,0.15,0.25,0.3,0.35,0.45,0.5,0.55,0.65,0.7,0.75,0.85,0.9,0.95], "tickSize": -58, "labels": false, "title": null}}
 }
},
{
 "data": {"name": "smoothed"},
 "mark": {"type": "circle", "opacity": 0},
 "encoding": {
  "x": {"field": "lat", "type": "quantitative",
        "axis": {"orient": "bottom", "values": [-90, -60, -30, 0, 30, 60, 90], "labelExpr": "datum.value < 0 ? '-' + abs(datum.value) : '' + datum.value", "ticks": false, "labelPadding": 22, "labelFontSize": 74, "title": "Latitude, deg", "titleFontSize": 74, "titlePadding": 6}},
  "y": {"field": "emis", "type": "quantitative",
        "axis": {"orient": "left", "values": [0, 0.2, 0.4, 0.6, 0.8, 1], "format": ".1f", "ticks": false, "labelPadding": 40, "labelFontSize": 74, "title": "Emissivity", "titleFontSize": 74, "titlePadding": 36}}
 }
},
{
 "data": {"name": "smoothed"},
 "mark": {"type": "circle", "opacity": 0},
 "encoding": {
  "x": {"field": "lat", "type": "quantitative",
        "axis": {"orient": "top", "values": [-90, -60, -30, 0, 30, 60, 90], "tickSize": -113, "labels": false, "title": null}},
  "y": {"field": "emis", "type": "quantitative",
        "axis": {"orient": "right", "values": [0, 0.2, 0.4, 0.6, 0.8, 1], "tickSize": -115, "labels": false, "title": null}}
 }
},
{
 "data": {"name": "smoothed"},
 "mark": {"type": "circle", "opacity": 0},
 "encoding": {
  "x": {"field": "lat", "type": "quantitative",
        "axis": {"orient": "top", "values": [-85,-80,-75,-70,-65,-55,-50,-45,-40,-35,-25,-20,-15,-10,-5,5,10,15,20,25,35,40,45,50,55,65,70,75,80,85], "tickSize": -58, "labels": false, "title": null}},
  "y": {"field": "emis", "type": "quantitative",
        "axis": {"orient": "right", "values": [0.05,0.1,0.15,0.25,0.3,0.35,0.45,0.5,0.55,0.65,0.7,0.75,0.85,0.9,0.95], "tickSize": -58, "labels": false, "title": null}}
 }
}
]
}
